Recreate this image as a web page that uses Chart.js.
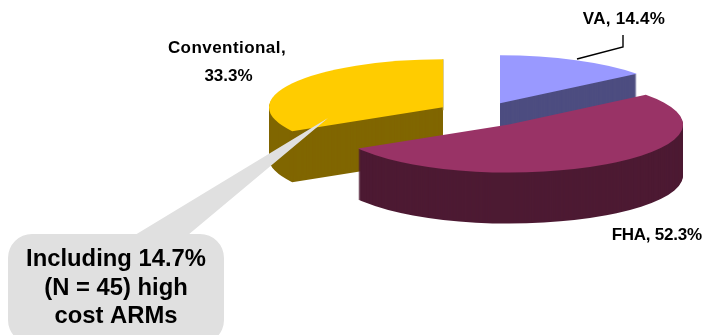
<!DOCTYPE html>
<html>
<head>
<meta charset="utf-8">
<style>html,body{margin:0;padding:0;background:#fff}canvas{display:block}</style>
<script src="https://cdn.jsdelivr.net/npm/chart.js@4/dist/chart.umd.js"></script>
</head>
<body>
<canvas id="pie" width="704" height="335"></canvas>
<script>
// Loan type shares, percent of loans
const loanTypes = ['VA', 'FHA', 'Conventional'];
const shares = [14.4, 52.3, 33.3];

// Slice styling
const topColors = ['#9999FF', '#993366', '#FFCC00'];
const sideColors = ['#4D4D80', '#4D1A33', '#806600'];
const edgeColors = ['#6A6AA0', '#6E3C55', '#B39A33'];
const explodePx = [41, 48, 45];

// Pie projection
const radiusPx = 174;
const tilt = 0.276;
const depthPx = 51;
const centerY = 113.5;

const calloutLines = ['Including 14.7%', '(N = 45) high', 'cost ARMs'];
const labelFont = 'bold 17px "Liberation Sans", Arial, sans-serif';
const calloutFont = 'bold 23.8px "Liberation Sans", Arial, sans-serif';

function midAngle(arc) { return (arc.startAngle + arc.endAngle) / 2; }

// Applies the tilted projection around the chart's own centre
function project(ctx, arc) {
  ctx.translate(0, centerY);
  ctx.scale(1, tilt);
  ctx.translate(0, -arc.y);
}

function spacedText(ctx, text, x, y, spacing) {
  ctx.letterSpacing = spacing + 'px';
  ctx.fillText(text, x, y);
  ctx.letterSpacing = '0px';
}

const pie3d = {
  id: 'pie3d',
  beforeDatasetDraw(chart, args) {
    const ctx = chart.ctx;
    const arcs = args.meta.data;
    // Back slices first, the front slice last
    [0, 2, 1].forEach(i => {
      const arc = arcs[i];
      const base = arc.options;
      const a = midAngle(arc);
      // Whole-pixel apex keeps the vertical cut faces crisp
      const dx = Math.round(arc.x + Math.cos(a) * explodePx[i]) - arc.x;
      const dy = Math.sin(a) * explodePx[i];
      // Extruded body
      arc.options = Object.assign({}, base, { backgroundColor: sideColors[i] });
      for (let d = depthPx; d >= 1; d -= 1) {
        ctx.save();
        ctx.translate(0, d);
        project(ctx, arc);
        ctx.translate(dx, dy);
        arc.draw(ctx);
        ctx.restore();
      }
      // Corner edge where the rim meets the cut face
      if (i === 2) {
        const ex = arc.x + dx + Math.cos(arc.endAngle) * radiusPx;
        const ey = centerY + (dy + Math.sin(arc.endAngle) * radiusPx) * tilt;
        ctx.save();
        ctx.strokeStyle = edgeColors[i];
        ctx.lineWidth = 1;
        ctx.beginPath();
        ctx.moveTo(ex, ey);
        ctx.lineTo(ex, ey + depthPx);
        ctx.stroke();
        ctx.restore();
      }
      // Top face
      arc.options = base;
      ctx.save();
      project(ctx, arc);
      ctx.translate(dx, dy);
      arc.draw(ctx);
      ctx.restore();
    });
    return false;
  },
  afterDraw(chart) {
    const ctx = chart.ctx;
    ctx.save();

    // Callout bubble with its pointer into the Conventional slice
    ctx.fillStyle = '#E0E0E0';
    ctx.beginPath();
    ctx.roundRect(8, 234, 216, 110, 24);
    ctx.moveTo(135, 235);
    ctx.lineTo(328, 118);
    ctx.lineTo(188, 235);
    ctx.closePath();
    ctx.fill();

    ctx.fillStyle = '#000';
    ctx.textAlign = 'center';
    ctx.textBaseline = 'alphabetic';
    ctx.font = calloutFont;
    calloutLines.forEach((t, i) => ctx.fillText(t, 116, 266 + i * 28.7));

    // Slice labels
    ctx.font = labelFont;
    spacedText(ctx, loanTypes[0] + ', ' + shares[0].toFixed(1) + '%', 624, 24, 0.25);
    spacedText(ctx, loanTypes[2] + ',', 227, 53, 0.45);
    spacedText(ctx, shares[2].toFixed(1) + '%', 228.5, 80.5, 0);
    spacedText(ctx, loanTypes[1] + ', ' + shares[1].toFixed(1) + '%', 656.7, 240, -0.25);

    // Leader line for the VA label
    ctx.strokeStyle = '#000';
    ctx.lineWidth = 1.4;
    ctx.beginPath();
    ctx.moveTo(577, 59);
    ctx.lineTo(623, 47);
    ctx.lineTo(623, 35);
    ctx.stroke();
    ctx.restore();
  }
};

new Chart(document.getElementById('pie'), {
  type: 'pie',
  plugins: [pie3d],
  data: {
    labels: loanTypes,
    datasets: [{ data: shares, backgroundColor: topColors, borderWidth: 0 }]
  },
  options: {
    responsive: false,
    animation: false,
    radius: radiusPx,
    layout: { padding: { left: 260 } },
    plugins: { legend: { display: false }, tooltip: { enabled: false } }
  }
});
</script>
</body>
</html>
